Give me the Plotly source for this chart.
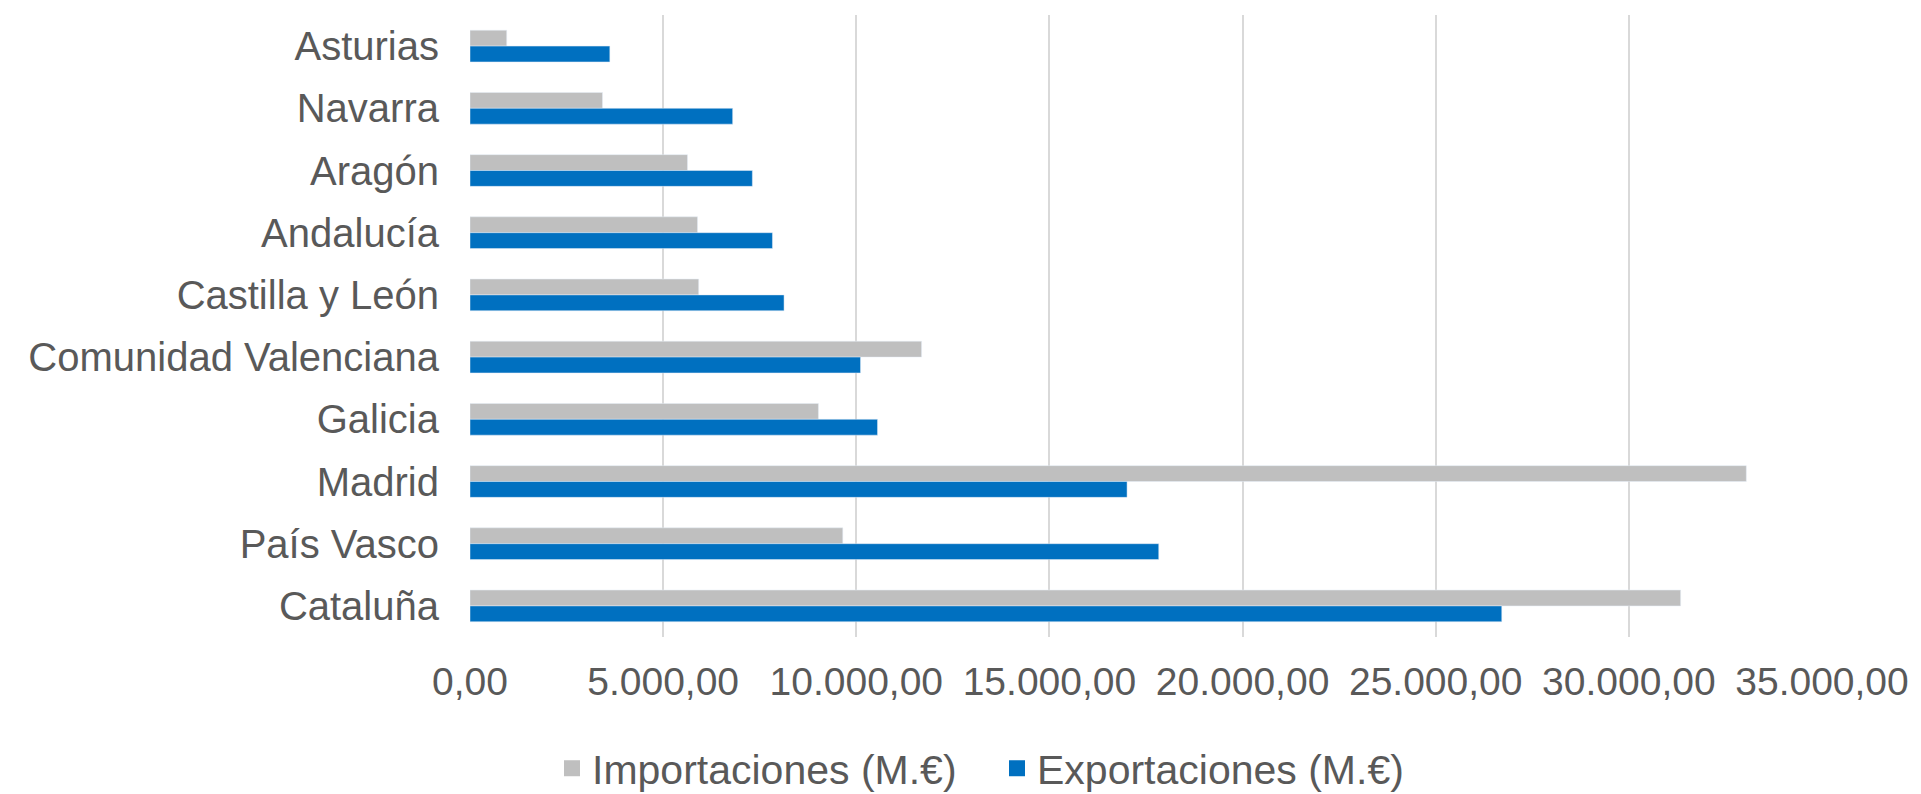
import plotly.graph_objects as go

regions = ["Asturias", "Navarra", "Aragón", "Andalucía", "Castilla y León",
           "Comunidad Valenciana", "Galicia", "Madrid", "País Vasco", "Cataluña"]
importaciones = [950, 3430, 5630, 5890, 5920, 11690, 9020, 33040, 9650, 31340]
exportaciones = [3620, 6800, 7310, 7830, 8130, 10110, 10550, 17010, 17830, 26710]
x_ticks = [0, 5000, 10000, 15000, 20000, 25000, 30000, 35000]
series_names = ["Importaciones (M.€)", "Exportaciones (M.€)"]
series_colors = ["#BFBFBF", "#0070C0"]

font_family = "Liberation Sans, Arial, sans-serif"
text_color = "#595959"

fig = go.Figure()
for name, vals, col in zip(series_names, [importaciones, exportaciones], series_colors):
    fig.add_trace(go.Bar(y=regions, x=vals, orientation="h", name=name,
                         marker_color=col, showlegend=False, legendgroup=name))
# legend-only entries with larger square swatches
for name, col in zip(series_names, series_colors):
    fig.add_trace(go.Scatter(x=[None], y=[None], mode="markers", name=name,
                             legendgroup=name,
                             marker=dict(symbol="square", size=16, color=col)))

fig.update_layout(
    width=1921, height=794,
    margin=dict(l=470, r=95, t=15, b=157),
    paper_bgcolor="white", plot_bgcolor="white",
    barmode="group", bargap=0.49, bargroupgap=0,
    separators=",.",
    font=dict(family=font_family, size=39, color=text_color),
    showlegend=True,
    legend=dict(orientation="h", xref="container", yref="container",
                x=0.519, xanchor="center", y=0.032, yanchor="middle",
                font=dict(size=41, color=text_color), itemwidth=30,
                entrywidth=400, traceorder="normal"),
)
fig.update_xaxes(range=[0, 35000], tickvals=x_ticks, tickformat=",.2f",
                 showgrid=True, gridcolor="#D9D9D9", gridwidth=2,
                 zeroline=False, showline=False, ticks="",
                 ticklabelstandoff=18, tickfont=dict(size=39))
fig.update_yaxes(autorange="reversed", showgrid=False, zeroline=False,
                 showline=False, ticks="", ticklabelstandoff=30,
                 tickfont=dict(size=40))

fig.write_html("out.html",
               config={"displayModeBar": False},
               post_script="document.body.style.margin='0';"
                           "document.body.style.overflow='hidden';")
